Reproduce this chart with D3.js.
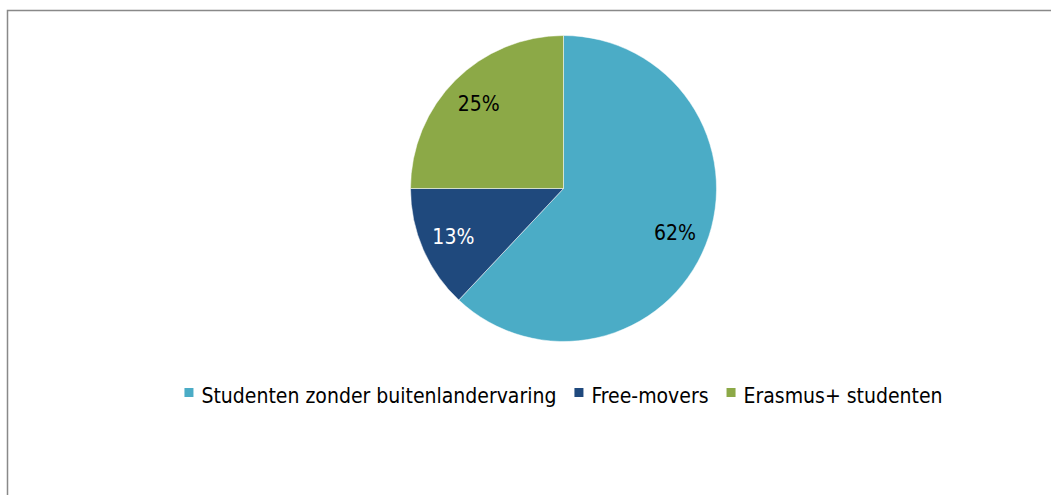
<!DOCTYPE html>
<html>
<head>
<meta charset="utf-8">
<script src="https://cdn.jsdelivr.net/npm/d3@7"></script>
<style>
  body { margin: 0; background: #fff; }
  svg { display: block; }
</style>
</head>
<body>
<svg id="chart" width="1051" height="495"></svg>
<script>
const categories = [ "Studenten zonder buitenlandervaring", "Free-movers", "Erasmus+ studenten" ] ;
const shares = [ 62, 13, 25 ] ;
const colors = [ "#4BACC6", "#1F497D", "#8CA947" ] ;
const labelColors = [ "#000", "#fff", "#000" ] ;

const width = 1051, height = 495 ;
const cx = 563.5, cy = 188.5, radius = 153 ;

const svg = d3.select( "#chart" ) ;

// chart frame - runs off the right and bottom edge
svg.append( "path" )
	.attr( "d", "M7.5," + height + " V10.5 H" + width )
	.attr( "fill", "none" )
	.attr( "stroke", "#898989" )
	.attr( "stroke-width", 1.5 ) ;

const pie = d3.pie().sort( null ).value( function(d) { return d ; } ) ;
const arcs = pie( shares ) ;
const arc = d3.arc().innerRadius( 0 ).outerRadius( radius ) ;
const labelArc = d3.arc().innerRadius( 120 ).outerRadius( 120 ) ;

const g = svg.append( "g" ).attr( "transform", "translate(" + cx + "," + cy + ")" ) ;

g.selectAll( "path.slice" )
	.data( arcs )
	.enter().append( "path" )
		.attr( "class", "slice" )
		.attr( "d", arc )
		.attr( "fill", function(d, i) { return colors[i] ; } )
		.attr( "stroke", "#fff" )
		.attr( "stroke-width", 0.5 ) ;

g.selectAll( "text.label" )
	.data( arcs )
	.enter().append( "text" )
		.attr( "class", "label" )
		.attr( "transform", function(d) { return "translate(" + labelArc.centroid(d) + ")" ; } )
		.attr( "text-anchor", "middle" )
		.attr( "dy", "0.36em" )
		.style( "font-family", "'DejaVu Sans Condensed', sans-serif" )
		.style( "font-size", "21px" )
		.attr( "fill", function(d, i) { return labelColors[i] ; } )
		.text( function(d) { return d.data + "%" ; } ) ;

// legend, centred under the pie
const legend = svg.append( "g" ).attr( "class", "legend" ) ;
const items = legend.selectAll( "g" )
	.data( categories )
	.enter().append( "g" ) ;

items.append( "rect" )
	.attr( "width", 9 )
	.attr( "height", 9 )
	.attr( "y", 388 )
	.attr( "fill", function(d, i) { return colors[i] ; } ) ;

items.append( "text" )
	.attr( "x", 17 )
	.attr( "y", 403 )
	.style( "font-family", "'DejaVu Sans Condensed', sans-serif" )
	.style( "font-size", "21px" )
	.attr( "fill", "#000" )
	.text( function(d) { return d ; } ) ;

const gap = 18 ;
var widths = [] ;
items.each( function() {
	widths.push( 17 + d3.select(this).select("text").node().getComputedTextLength() ) ;
}) ;
const total = d3.sum( widths ) + gap * ( widths.length - 1 ) ;
var x = cx - total / 2 ;
items.attr( "transform", function(d, i) {
	const t = "translate(" + x + ",0)" ;
	x += widths[i] + gap ;
	return t ;
}) ;
</script>
</body>
</html>
